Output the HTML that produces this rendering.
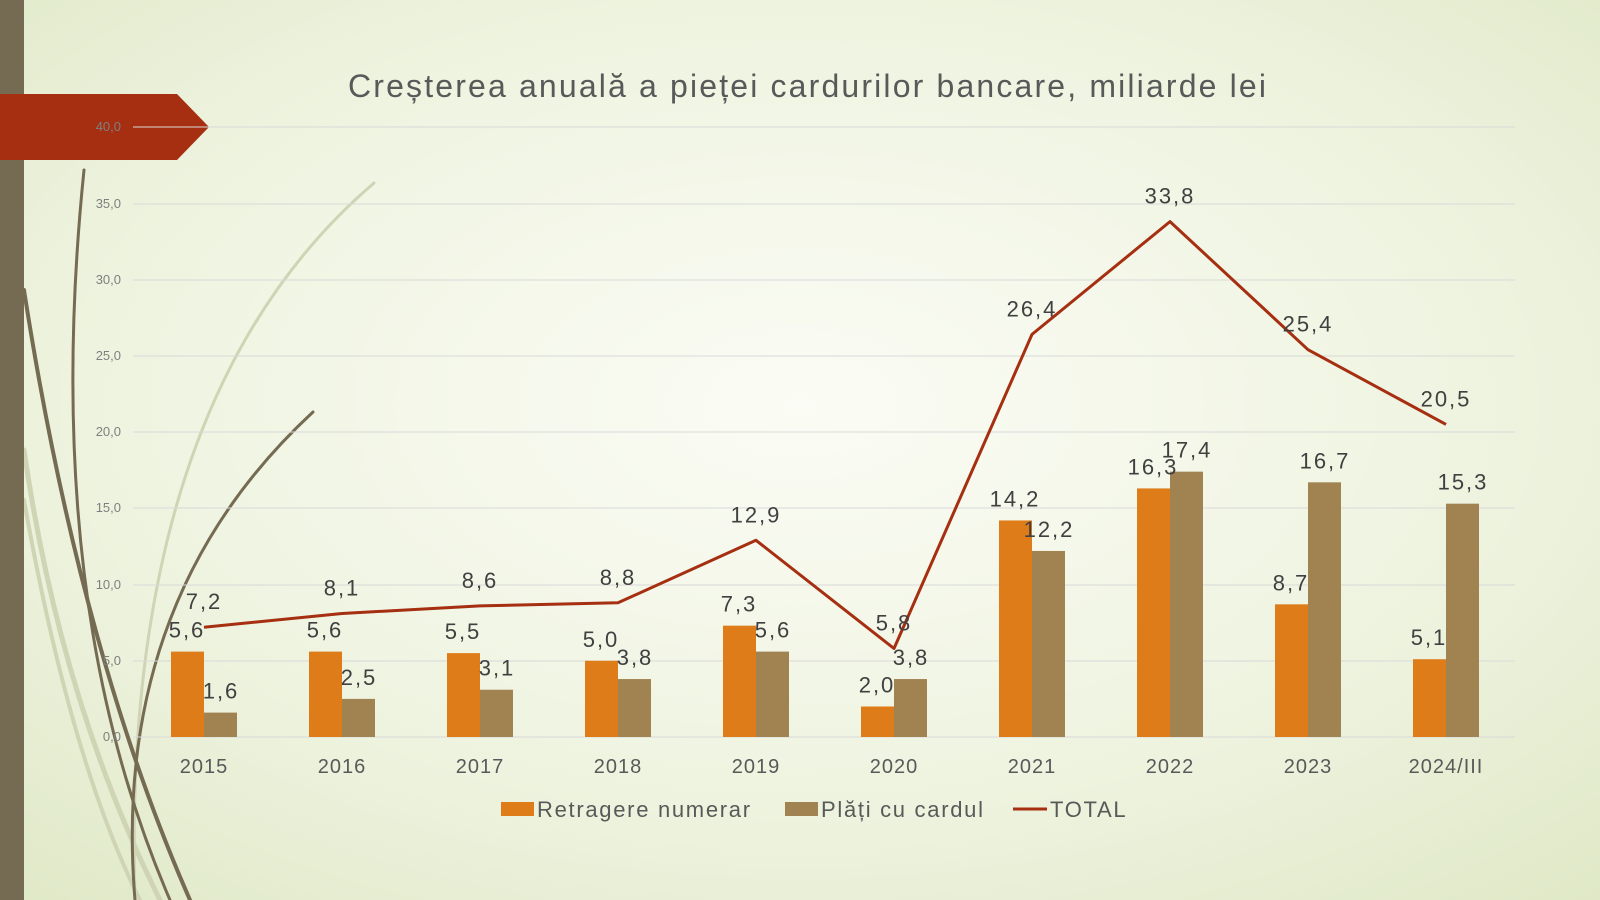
<!DOCTYPE html>
<html><head><meta charset="utf-8"><style>
html,body{margin:0;padding:0;width:1600px;height:900px;overflow:hidden}
svg{display:block;font-family:"Century Gothic","Liberation Sans",sans-serif}
</style></head><body>
<svg width="1600" height="900" viewBox="0 0 1600 900">
<defs>
<radialGradient id="bg" cx="0.5" cy="0.45" r="0.75">
<stop offset="0" stop-color="#fbfcf5"/><stop offset="0.6" stop-color="#eef3df"/><stop offset="1" stop-color="#dfe8c6"/>
</radialGradient>
</defs>
<rect width="1600" height="900" fill="url(#bg)"/>
<g fill="none" stroke-linecap="round">
<path d="M24 450 Q60 700 160 900" stroke="#cfd4b4" stroke-width="5"/>
<path d="M24 500 Q70 760 140 900" stroke="#cfd4b4" stroke-width="4"/>
<path d="M374 183 Q120 400 135 900" stroke="#cfd4b4" stroke-width="3"/>
<path d="M24 290 Q80 650 190 900" stroke="#756b52" stroke-width="4"/>
<path d="M84 170 Q40 600 170 900" stroke="#756b52" stroke-width="3"/>
<path d="M313 412 Q110 600 135 900" stroke="#756b52" stroke-width="3"/>
</g>
<rect x="0" y="0" width="24" height="900" fill="#756b52"/>
<polygon points="0,94 177,94 209,127 177,160 0,160" fill="#a52f10"/>
<text x="348" y="97" textLength="918" lengthAdjust="spacing" font-size="32" fill="#595959">Creșterea anuală a pieței cardurilor bancare, miliarde lei</text>
<g stroke="#d9d9d9" stroke-width="1">
<line x1="133" x2="1515" y1="737" y2="737"/><line x1="133" x2="1515" y1="661" y2="661"/>
<line x1="133" x2="1515" y1="585" y2="585"/><line x1="133" x2="1515" y1="508" y2="508"/>
<line x1="133" x2="1515" y1="432" y2="432"/><line x1="133" x2="1515" y1="356" y2="356"/>
<line x1="133" x2="1515" y1="280" y2="280"/><line x1="133" x2="1515" y1="204" y2="204"/>
<line x1="133" x2="1515" y1="127" y2="127"/>
</g>
<g font-size="13" fill="#7f7f7f" text-anchor="end">
<text x="121" y="741">0,0</text><text x="121" y="665">5,0</text><text x="121" y="589">10,0</text>
<text x="121" y="512">15,0</text><text x="121" y="436">20,0</text><text x="121" y="360">25,0</text>
<text x="121" y="284">30,0</text><text x="121" y="208">35,0</text><text x="121" y="131">40,0</text>
</g>
<g id="bars"></g>
<g id="lbl" font-size="22" fill="#404040" text-anchor="middle" letter-spacing="2"></g>
<g font-size="20" fill="#595959" text-anchor="middle" id="cats" letter-spacing="1"></g>
<g font-size="22" fill="#595959" letter-spacing="1.7">
<rect x="501" y="802" width="33" height="14" fill="#dd7c19"/><text x="537" y="817">Retragere numerar</text>
<rect x="785" y="802" width="33" height="14" fill="#a08350"/><text x="821" y="817">Plăți cu cardul</text>
<line x1="1013" x2="1047" y1="809" y2="809" stroke="#a52f10" stroke-width="3"/><text x="1050" y="817">TOTAL</text>
</g>
<script>
var cats=["2015","2016","2017","2018","2019","2020","2021","2022","2023","2024/III"];
var a=[5.6,5.6,5.5,5.0,7.3,2.0,14.2,16.3,8.7,5.1],b=[1.6,2.5,3.1,3.8,5.6,3.8,12.2,17.4,16.7,15.3],t=[7.2,8.1,8.6,8.8,12.9,5.8,26.4,33.8,25.4,20.5];
var NS="http://www.w3.org/2000/svg",y0=737,k=15.25;
function el(p,n,at,tx){var e=document.createElementNS(NS,n);for(var q in at)e.setAttribute(q,at[q]);if(tx)e.textContent=tx;document.getElementById(p).appendChild(e);return e;}
var pts=[];
for(var i=0;i<10;i++){var c=204+138*i;
var f=function(v){return v.toFixed(1).replace('.',',');};
el("bars","rect",{x:c-33,y:y0-a[i]*k,width:33,height:a[i]*k,fill:"#dd7c19"});
el("bars","rect",{x:c,y:y0-b[i]*k,width:33,height:b[i]*k,fill:"#a08350"});
el("lbl","text",{x:c-17,y:y0-a[i]*k-14},f(a[i]));
el("lbl","text",{x:c+17,y:y0-b[i]*k-14},f(b[i]));
el("lbl","text",{x:c,y:y0-t[i]*k-18},f(t[i]));
el("cats","text",{x:c,y:773},cats[i]);
pts.push(c+","+(y0-t[i]*k).toFixed(1));}
el("bars","polyline",{points:pts.join(" "),fill:"none",stroke:"#a52f10","stroke-width":3,"stroke-linejoin":"round"});
</script>
</svg>
</body></html>
